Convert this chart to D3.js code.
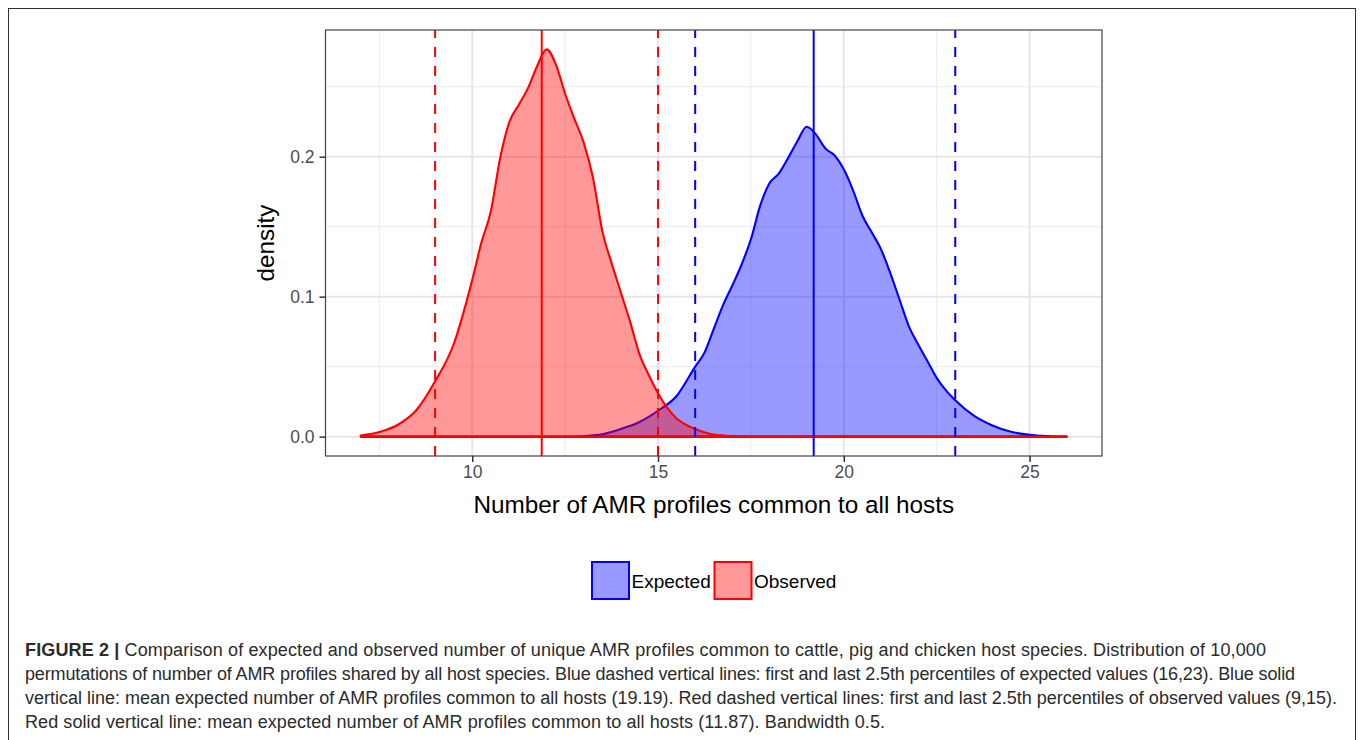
<!DOCTYPE html>
<html>
<head>
<meta charset="utf-8">
<script src="https://cdn.jsdelivr.net/npm/d3@7"></script>
<style>
  body { margin: 0; background: #fff; }
  svg text { font-family: "Liberation Sans", Arial, Helvetica, sans-serif; }
</style>
</head>
<body>
<svg id="chart" width="1360" height="740"></svg>
<script>
// density estimates (x = number of shared AMR profiles)
const obsX = [7, 7.5, 8, 8.5, 9, 9.5,
  10, 10.25, 10.5, 10.75, 11, 11.25, 11.5, 11.75, 12, 12.25, 12.5, 12.75, 13,
  13.25, 13.5, 13.75, 14, 14.25, 14.5, 14.75, 15, 15.25, 15.5, 15.75, 16,
  16.5, 17, 17.5, 18, 19, 20, 21, 22, 23, 24, 25, 26];
const obsDensity = [0.0008, 0.0033, 0.0085, 0.019, 0.0395, 0.066,
  0.112, 0.139, 0.161, 0.199, 0.225, 0.237, 0.249, 0.265, 0.2767, 0.266, 0.245, 0.227, 0.21,
  0.185, 0.147, 0.124, 0.103, 0.082, 0.059, 0.044, 0.031, 0.0205, 0.013, 0.0085, 0.0055,
  0.0015, 0.0004, 0.0001, 0, 0, 0, 0, 0, 0, 0, 0, 0];

const expX = [7, 8, 9, 10, 11, 12, 12.5, 13, 13.5, 14, 14.5, 15, 15.5,
  16, 16.25, 16.5, 16.75, 17, 17.25, 17.5, 17.75, 18, 18.25, 18.5, 18.75, 19,
  19.25, 19.5, 19.75, 20, 20.25, 20.5, 20.75, 21, 21.25, 21.5, 21.75, 22,
  22.25, 22.5, 22.75, 23, 23.5, 24, 24.5, 25, 25.5, 26];
const expDensity = [0, 0, 0, 0, 0, 0.00005, 0.0001, 0.0005, 0.0017, 0.0055, 0.0105, 0.0185, 0.029,
  0.05, 0.06, 0.077, 0.094, 0.108, 0.123, 0.141, 0.165, 0.181, 0.188, 0.199, 0.211, 0.2214,
  0.216, 0.206, 0.201, 0.191, 0.176, 0.158, 0.146, 0.134, 0.117, 0.098, 0.079, 0.066,
  0.054, 0.042, 0.033, 0.026, 0.015, 0.008, 0.0035, 0.0013, 0.0004, 0.0001];

// reference lines
const expPercentiles = [16, 23];
const expMean = 19.19;
const obsPercentiles = [9, 15];
const obsMean = 11.87;

const xTicks = [10, 15, 20, 25];
const xMinor = [7.5, 12.5, 17.5, 22.5];
const yTicks = [0, 0.1, 0.2];
const yMinor = [0.05, 0.15, 0.25];

const groups = ["Expected", "Observed"];
const groupColors = { Expected: "#0000ff", Observed: "#ff0000" };

const captionLines = [
  ["FIGURE 2 | ", "Comparison of expected and observed number of unique AMR profiles common to cattle, pig and chicken host species. Distribution of 10,000"],
  ["", "permutations of number of AMR profiles shared by all host species. Blue dashed vertical lines: first and last 2.5th percentiles of expected values (16,23). Blue solid"],
  ["", "vertical line: mean expected number of AMR profiles common to all hosts (19.19). Red dashed vertical lines: first and last 2.5th percentiles of observed values (9,15)."],
  ["", "Red solid vertical line: mean expected number of AMR profiles common to all hosts (11.87). Bandwidth 0.5."]
];
// widths the caption lines take in the original layout
const captionWidths = [1241, 1270, 1312, 860];

const svg = d3.select("#chart");

// outer frame
svg.append("rect")
  .attr("x", 8.5).attr("y", 8.5)
  .attr("width", 1347).attr("height", 740)
  .attr("fill", "none").attr("stroke", "#333").attr("stroke-width", 1);

const panel = { left: 325.5, top: 30, right: 1102, bottom: 456 };

const xAll = obsX.concat(expX);
const xExt = d3.extent(xAll);
const xPad = (xExt[1] - xExt[0]) * 0.05;
const x = d3.scaleLinear()
  .domain([xExt[0] - xPad, xExt[1] + xPad])
  .range([panel.left, panel.right]);

const yMax = d3.max(obsDensity.concat(expDensity));
const y = d3.scaleLinear()
  .domain([-yMax * 0.05, yMax * 1.05])
  .range([panel.bottom, panel.top]);

const plot = svg.append("g");

// grid
const grid = plot.append("g").attr("class", "grid");
grid.selectAll(".vminor").data(xMinor).enter().append("line")
  .attr("x1", d => x(d)).attr("x2", d => x(d))
  .attr("y1", panel.top).attr("y2", panel.bottom)
  .attr("stroke", "#ebebeb").attr("stroke-width", 1);
grid.selectAll(".hminor").data(yMinor).enter().append("line")
  .attr("y1", d => y(d)).attr("y2", d => y(d))
  .attr("x1", panel.left).attr("x2", panel.right)
  .attr("stroke", "#ebebeb").attr("stroke-width", 1);
grid.selectAll(".vmajor").data(xTicks).enter().append("line")
  .attr("x1", d => x(d)).attr("x2", d => x(d))
  .attr("y1", panel.top).attr("y2", panel.bottom)
  .attr("stroke", "#e6e6e6").attr("stroke-width", 2);
grid.selectAll(".hmajor").data(yTicks).enter().append("line")
  .attr("y1", d => y(d)).attr("y2", d => y(d))
  .attr("x1", panel.left).attr("x2", panel.right)
  .attr("stroke", "#e6e6e6").attr("stroke-width", 2);

// densities
const series = [
  { name: "Expected", xs: expX, ds: expDensity },
  { name: "Observed", xs: obsX, ds: obsDensity }
];

const area = d3.area()
  .x(d => x(d[0])).y0(y(0)).y1(d => y(d[1]))
  .curve(d3.curveMonotoneX);

plot.selectAll(".density").data(series).enter().append("path")
  .attr("class", "density")
  .attr("d", s => area(s.xs.map((v, i) => [v, s.ds[i]])) )
  .attr("fill", s => groupColors[s.name])
  .attr("fill-opacity", 0.4)
  .attr("stroke", s => groupColors[s.name])
  .attr("stroke-width", 2.1)
  .attr("stroke-linejoin", "round");

// reference vertical lines
const vlines = [
  ...expPercentiles.map(v => ({ v, name: "Expected", dashed: true })),
  { v: expMean, name: "Expected", dashed: false },
  ...obsPercentiles.map(v => ({ v, name: "Observed", dashed: true })),
  { v: obsMean, name: "Observed", dashed: false }
];
plot.selectAll(".vline").data(vlines).enter().append("line")
  .attr("class", "vline")
  .attr("x1", d => x(d.v)).attr("x2", d => x(d.v))
  .attr("y1", panel.bottom).attr("y2", panel.top)
  .attr("stroke", d => groupColors[d.name])
  .attr("stroke-width", 2)
  .attr("stroke-dasharray", d => d.dashed ? "10,9" : null);

// panel border
plot.append("rect")
  .attr("x", panel.left).attr("y", panel.top)
  .attr("width", panel.right - panel.left).attr("height", panel.bottom - panel.top)
  .attr("fill", "none").attr("stroke", "#444").attr("stroke-width", 1.2);

// axes
const xAxis = svg.append("g")
  .attr("transform", `translate(0,${panel.bottom})`)
  .call(d3.axisBottom(x).tickValues(xTicks).tickSize(6).tickPadding(4).tickFormat(d3.format("d")));
const yAxis = svg.append("g")
  .attr("transform", `translate(${panel.left},0)`)
  .call(d3.axisLeft(y).tickValues(yTicks).tickSize(6).tickPadding(5).tickFormat(d3.format(".1f")));
[xAxis, yAxis].forEach(a => {
  a.select(".domain").remove();
  a.selectAll(".tick line").attr("stroke", "#333").attr("stroke-width", 1.5);
  a.selectAll(".tick text").attr("fill", "#4d4d4d").style("font-size", "17.5px")
    .style("font-family", "'Liberation Sans', Arial, sans-serif");
});

// axis titles
svg.append("text")
  .attr("x", (panel.left + panel.right) / 2).attr("y", 513)
  .attr("text-anchor", "middle").style("font-size", "24.3px").attr("fill", "#000")
  .text("Number of AMR profiles common to all hosts");
svg.append("text")
  .attr("transform", `translate(274,${(panel.top + panel.bottom) / 2}) rotate(-90)`)
  .attr("text-anchor", "middle").style("font-size", "24.3px").attr("fill", "#000")
  .text("density");

// legend
const legendX = [591, 713.5];
const legend = svg.selectAll(".legend").data(groups).enter().append("g")
  .attr("class", "legend")
  .attr("transform", (d, i) => `translate(${legendX[i]},561)`);
legend.append("rect")
  .attr("x", 1).attr("y", 1).attr("width", 37).attr("height", 37)
  .attr("fill", d => groupColors[d]).attr("fill-opacity", 0.4)
  .attr("stroke", d => groupColors[d]).attr("stroke-width", 2);
legend.append("text")
  .attr("x", 40.5).attr("y", 26.5)
  .style("font-size", "19px").attr("fill", "#000")
  .text(d => d);

// caption
const cap = svg.append("g").attr("class", "caption");
captionLines.forEach((ln, i) => {
  const t = cap.append("text")
    .attr("x", 25).attr("y", 656 + i * 24)
    .style("font-size", "18px").attr("fill", "#2b2b2b")
    .attr("textLength", captionWidths[i])
    .attr("lengthAdjust", "spacing");
  if (ln[0]) t.append("tspan").style("font-weight", "bold").text(ln[0]);
  t.append("tspan").text(ln[1]);
});
</script>
</body>
</html>
